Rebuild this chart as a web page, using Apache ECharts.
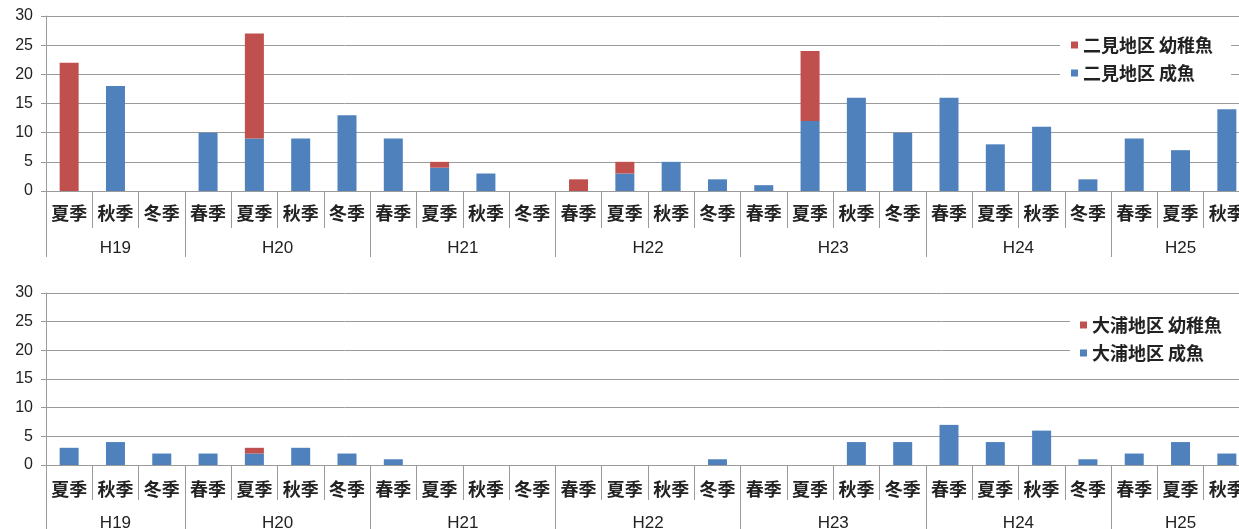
<!DOCTYPE html>
<html>
<head>
<meta charset="utf-8">
<script src="https://cdn.jsdelivr.net/npm/echarts@6/dist/echarts.min.js"></script>
<style>
  html, body { margin: 0; padding: 0; background: #fff; }
  #chart { width: 1239px; height: 529px; }
</style>
</head>
<body>
<div id="chart"></div>
<script>
// Survey periods: fiscal years and the seasons sampled in each
const yearLabels = ['H19', 'H20', 'H21', 'H22', 'H23', 'H24', 'H25'];
const yearSeasons = [
  ['夏季', '秋季', '冬季'],
  ['春季', '夏季', '秋季', '冬季'],
  ['春季', '夏季', '秋季', '冬季'],
  ['春季', '夏季', '秋季', '冬季'],
  ['春季', '夏季', '秋季', '冬季'],
  ['春季', '夏季', '秋季', '冬季'],
  ['春季', '夏季', '秋季']
];

// 二見地区 (upper panel)
const futamiAdult =    [0, 18, 0,  10, 9, 9, 13,  9, 4, 3, 0,  0, 3, 5, 2,  1, 12, 16, 10,  16, 8, 11, 2,  9, 7, 14];
const futamiJuvenile = [22, 0, 0,  0, 18, 0, 0,   0, 1, 0, 0,  2, 2, 0, 0,  0, 12, 0, 0,    0, 0, 0, 0,   0, 0, 0];

// 大浦地区 (lower panel)
const ouraAdult =      [3, 4, 2,  2, 2, 3, 2,  1, 0, 0, 0,  0, 0, 0, 1,  0, 0, 4, 4,  7, 4, 6, 1,  2, 4, 2];
const ouraJuvenile =   [0, 0, 0,  0, 1, 0, 0,  0, 0, 0, 0,  0, 0, 0, 0,  0, 0, 0, 0,  0, 0, 0, 0,  0, 0, 0];

const yTicks = { min: 0, max: 30, interval: 5 };

const RED = '#C0504D';
const BLUE = '#4F81BD';
const GRID_LINE = '#9a9a9a';
const TEXT = '#222';

// Flat list of season categories
const seasonCats = [].concat(...yearSeasons);
const nSeasons = seasonCats.length;

// Year axis: half-step points (boundaryGap false), so a label can sit in the
// middle of each year span and ticks land on the year boundaries.
const halfPoints = nSeasons * 2 + 1;
const yearCats = new Array(halfPoints).fill('');
const yearBounds = new Set([0]);
let acc = 0;
yearSeasons.forEach((s, i) => {
  yearCats[acc + s.length] = yearLabels[i];   // centre of span in half steps
  acc += s.length * 2;
  yearBounds.add(acc);
});
const yearCenters = new Set();
yearCats.forEach((v, i) => { if (v) yearCenters.add(i); });

// The plot runs past the right edge of the page, as in the printed figure.
const grids = [
  { left: 46, top: 16, width: 1204, height: 175, outerBoundsMode: 'none', containLabel: false },
  { left: 46, top: 293, width: 1204, height: 172, outerBoundsMode: 'none', containLabel: false }
];

const axisStyle = [
  { seasonMargin: 13, seasonTick: 37, yearMargin: 49, yearTick: 66 },
  { seasonMargin: 15, seasonTick: 35, yearMargin: 50, yearTick: 66 }
];

function makeXAxes(gridIndex) {
  const s = axisStyle[gridIndex];
  return [
    {
      type: 'category', gridIndex, position: 'bottom', data: seasonCats,
      axisLine: { show: true, lineStyle: { color: GRID_LINE, width: 1 } },
      axisTick: { show: true, interval: 0, length: s.seasonTick, lineStyle: { color: GRID_LINE } },
      axisLabel: {
        interval: 0, margin: s.seasonMargin, color: TEXT, fontSize: 18, fontWeight: 'bold',
        fontFamily: '"Noto Sans CJK JP", sans-serif'
      },
      splitLine: { show: false }
    },
    {
      type: 'category', gridIndex, position: 'bottom', data: yearCats, boundaryGap: false,
      axisLine: { show: false },
      axisTick: {
        show: true, length: s.yearTick, lineStyle: { color: GRID_LINE },
        interval: (idx) => yearBounds.has(idx)
      },
      axisLabel: {
        margin: s.yearMargin, color: TEXT, fontSize: 17,
        fontFamily: '"Liberation Sans", Arial, sans-serif',
        interval: (idx) => yearCenters.has(idx)
      },
      splitLine: { show: false }
    }
  ];
}

function makeYAxis(gridIndex) {
  return {
    type: 'value', gridIndex, min: yTicks.min, max: yTicks.max, interval: yTicks.interval,
    axisLine: { show: true, lineStyle: { color: GRID_LINE, width: 1 } },
    axisTick: { show: true, length: 5, lineStyle: { color: GRID_LINE } },
    axisLabel: {
      margin: 13, color: TEXT, fontSize: 16,
      fontFamily: '"Liberation Sans", Arial, sans-serif'
    },
    splitLine: { show: true, lineStyle: { color: GRID_LINE, width: 1 } }
  };
}

function barSeries(name, data, color, axisIndex, stack) {
  return {
    name, type: 'bar', stack, data,
    xAxisIndex: axisIndex * 2, yAxisIndex: axisIndex,
    barWidth: 19, itemStyle: { color }, silent: true, animation: false
  };
}

const legendText = {
  color: TEXT, fontSize: 18, fontWeight: 'bold',
  fontFamily: '"Noto Sans CJK JP", sans-serif'
};

const option = {
  animation: false,
  backgroundColor: '#fff',
  grid: grids,
  xAxis: [...makeXAxes(0), ...makeXAxes(1)],
  yAxis: [makeYAxis(0), makeYAxis(1)],
  legend: [
    {
      data: ['二見地区 幼稚魚', '二見地区 成魚'],
      orient: 'vertical', left: 1060, top: 31,
      padding: [5, 18, 5, 11], itemGap: 10, itemWidth: 7, itemHeight: 7,
      icon: 'rect', backgroundColor: '#fff', textStyle: legendText,
      selectedMode: false
    },
    {
      data: ['大浦地区 幼稚魚', '大浦地区 成魚'],
      orient: 'vertical', left: 1070, top: 311,
      padding: [5, 20, 5, 10], itemGap: 10, itemWidth: 7, itemHeight: 7,
      icon: 'rect', backgroundColor: '#fff', textStyle: legendText,
      selectedMode: false
    }
  ],
  series: [
    barSeries('二見地区 成魚', futamiAdult, BLUE, 0, 'futami'),
    barSeries('二見地区 幼稚魚', futamiJuvenile, RED, 0, 'futami'),
    barSeries('大浦地区 成魚', ouraAdult, BLUE, 1, 'oura'),
    barSeries('大浦地区 幼稚魚', ouraJuvenile, RED, 1, 'oura')
  ]
};

const chart = echarts.init(document.getElementById('chart'), null, { renderer: 'canvas' });
chart.setOption(option);
</script>
</body>
</html>
